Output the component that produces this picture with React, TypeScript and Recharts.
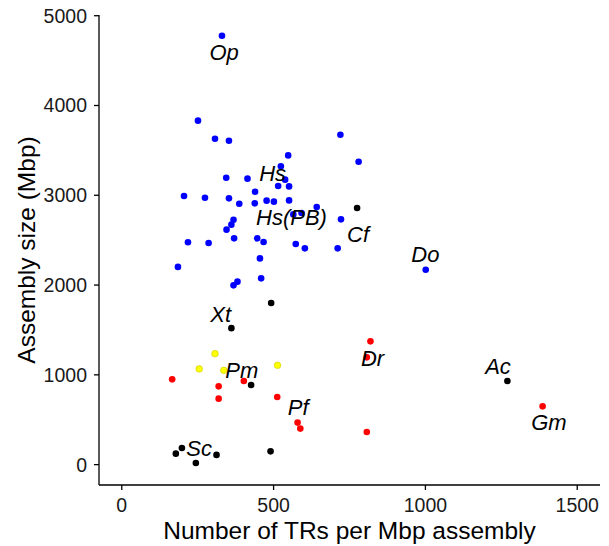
import { ScatterChart, Scatter, XAxis, YAxis, Label } from 'recharts';

// Points: [TRs per Mbp, assembly size in Mbp]
const bluePoints: [number, number][] = [
  [330, 4777], [251, 3831], [307, 3630], [353, 3608], [720, 3675], [780, 3374],
  [548, 3444], [524, 3322], [538, 3174], [515, 3103], [551, 3099], [344, 3196],
  [414, 3185], [439, 3040], [205, 2992], [274, 2973], [353, 2966], [387, 2906],
  [438, 2910], [477, 2940], [501, 2929], [551, 2943], [642, 2870], [565, 2787],
  [592, 2802], [368, 2728], [361, 2673], [345, 2617], [218, 2476], [286, 2469],
  [370, 2520], [446, 2520], [467, 2480], [573, 2458], [603, 2409], [711, 2409],
  [722, 2732], [455, 2297], [185, 2202], [381, 2038], [368, 1997], [459, 2075],
  [1001, 2171],
];

const blackPoints: [number, number][] = [
  [775, 2859], [492, 1800], [361, 1520], [426, 887], [490, 148],
  [178, 122], [198, 185], [244, 18], [312, 108], [1270, 932],
];

const redPoints: [number, number][] = [
  [166, 950], [319, 872], [319, 735], [402, 932], [512, 754], [579, 468],
  [588, 401], [819, 1373], [807, 1195], [807, 364], [1386, 649],
];

const yellowPoints: [number, number][] = [
  [307, 1236], [255, 1066], [336, 1050], [513, 1106],
];

// Species labels, placed at the label centre in data units
const speciesNames = ['Op', 'Hs', 'Hs(PB)', 'Cf', 'Do', 'Xt', 'Pm', 'Dr', 'Pf', 'Sc', 'Ac', 'Gm'];
const labelX = [337, 497, 559, 778, 1000, 326, 395, 826, 581, 255, 1239, 1407];
const labelY = [4591, 3248, 2747, 2561, 2339, 1670, 1047, 1180, 631, 178, 1088, 464];

const xTicks = [0, 500, 1000, 1500];
const yTicks = [0, 1000, 2000, 3000, 4000, 5000];

const FONT = '"Liberation Sans", Arial, sans-serif';

const toRows = (pts: [number, number][]) => pts.map(([x, y]) => ({ x, y }));
const labelRows = speciesNames.map((name, i) => ({ name, x: labelX[i], y: labelY[i] }));

const dot = (fill: string, stroke?: string) => (props: any) => (
  <circle
    cx={props.cx}
    cy={props.cy}
    r={3.3}
    fill={fill}
    stroke={stroke ?? 'none'}
    strokeWidth={stroke ? 0.6 : 0}
  />
);

const speciesText = (props: any) => (
  <text
    x={props.cx}
    y={props.cy}
    textAnchor="middle"
    dominantBaseline="central"
    fontFamily={FONT}
    fontStyle="italic"
    fontSize={22}
    fill="#000"
  >
    {props.payload.name}
  </text>
);

export default function App() {
  return (
    <div style={{ position: 'absolute', left: 0, top: 0, background: '#fff' }}>
      <ScatterChart
        width={609}
        height={546}
        margin={{ top: 15, right: 9, bottom: 0, left: 0 }}
      >
        <XAxis
          type="number"
          dataKey="x"
          domain={[-75, 1575]}
          ticks={xTicks}
          allowDataOverflow
          height={61}
          tickSize={5}
          tickMargin={8}
          axisLine={{ stroke: '#000', strokeWidth: 1.3 }}
          tickLine={{ stroke: '#000', strokeWidth: 1.3 }}
          tick={{ fontSize: 19.5, fill: '#1a1a1a', fontFamily: FONT }}
        >
          <Label
            content={(p: any) => {
              const vb = p.viewBox;
              return (
                <text
                  x={vb.x + vb.width / 2}
                  y={539}
                  textAnchor="middle"
                  fontFamily={FONT}
                  fontSize={24.5}
                  fill="#000"
                >
                  Number of TRs per Mbp assembly
                </text>
              );
            }}
          />
        </XAxis>
        <YAxis
          type="number"
          dataKey="y"
          domain={[-227, 5008]}
          ticks={yTicks}
          allowDataOverflow
          width={99}
          tickSize={5}
          tickMargin={7}
          axisLine={{ stroke: '#000', strokeWidth: 1.3 }}
          tickLine={{ stroke: '#000', strokeWidth: 1.3 }}
          tick={{ fontSize: 19.5, fill: '#1a1a1a', fontFamily: FONT }}
        >
          <Label
            content={(p: any) => {
              const vb = p.viewBox;
              const cy = vb.y + vb.height / 2;
              return (
                <text
                  x={26}
                  y={cy}
                  transform={`rotate(-90, 26, ${cy})`}
                  textAnchor="middle"
                  dominantBaseline="central"
                  fontFamily={FONT}
                  fontSize={24.5}
                  fill="#000"
                >
                  Assembly size (Mbp)
                </text>
              );
            }}
          />
        </YAxis>
        <Scatter data={toRows(bluePoints)} shape={dot('#0000ff')} isAnimationActive={false} />
        <Scatter data={toRows(blackPoints)} shape={dot('#000000')} isAnimationActive={false} />
        <Scatter data={toRows(redPoints)} shape={dot('#ff0000')} isAnimationActive={false} />
        <Scatter data={toRows(yellowPoints)} shape={dot('#ffff00', '#c9c900')} isAnimationActive={false} />
        <Scatter data={labelRows} shape={speciesText} isAnimationActive={false} />
      </ScatterChart>
    </div>
  );
}
